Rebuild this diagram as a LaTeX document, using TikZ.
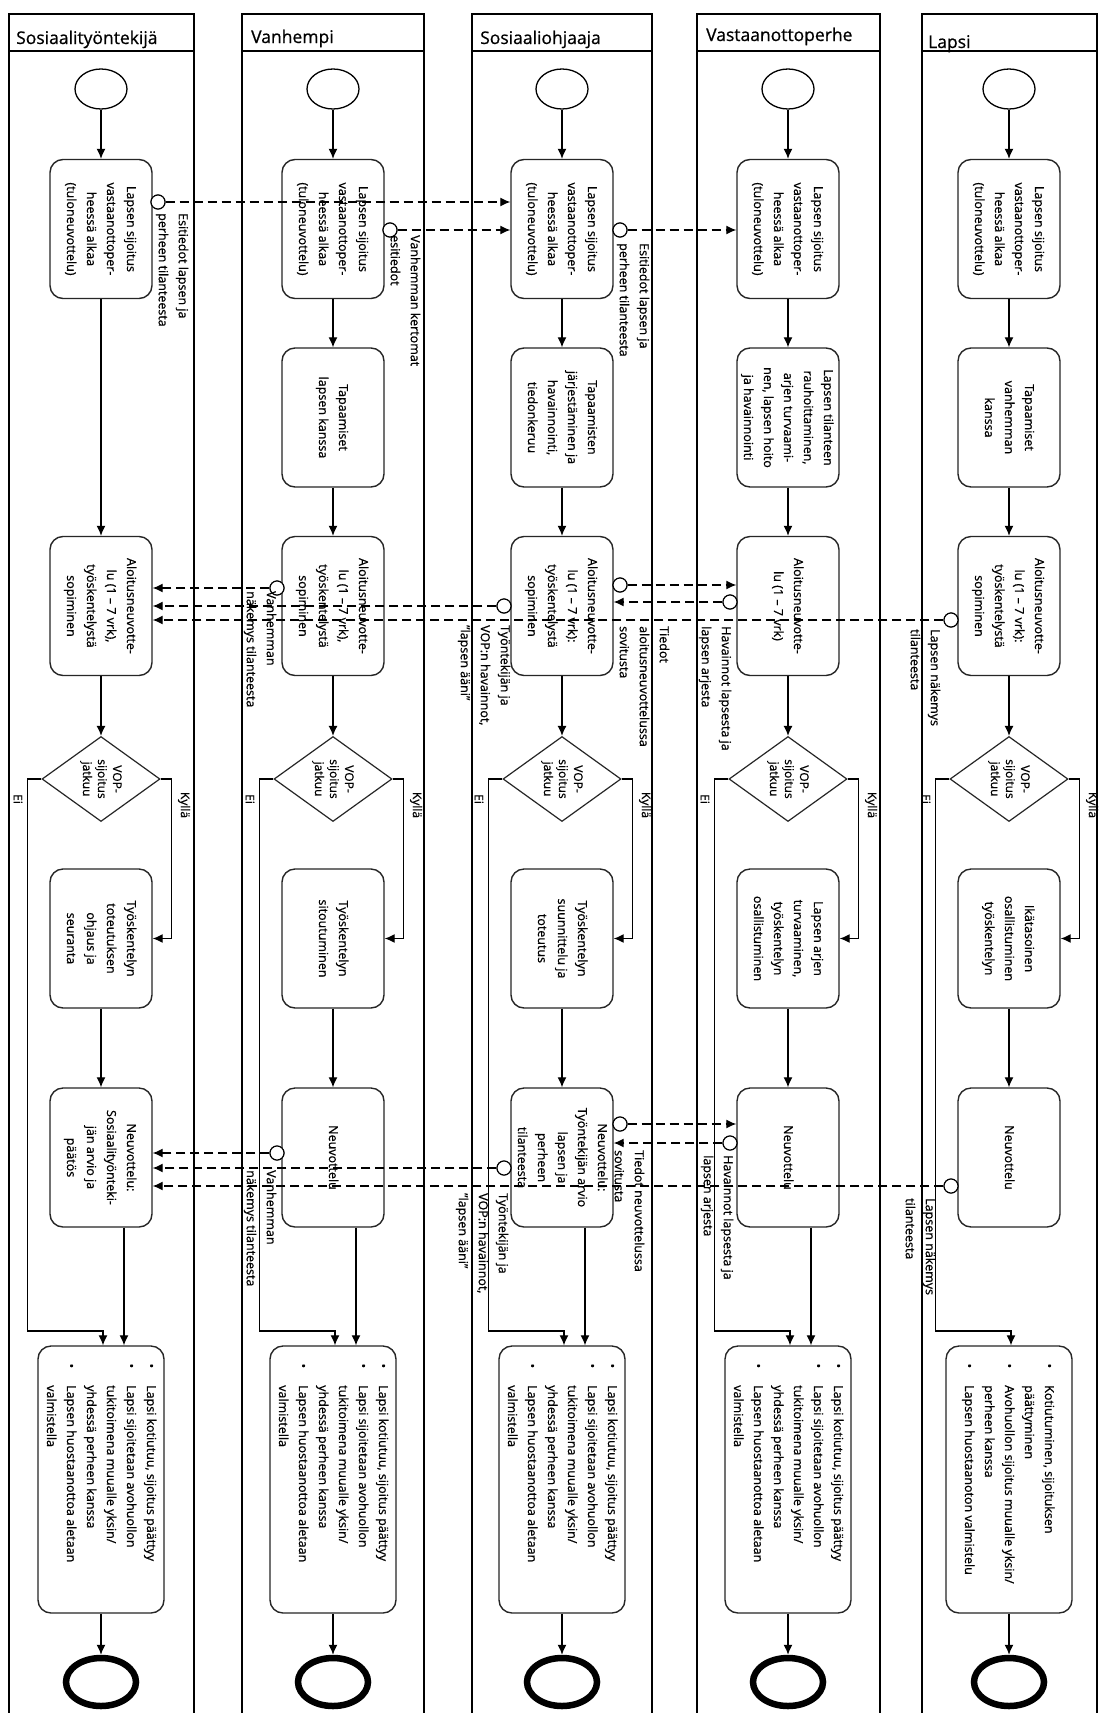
\documentclass[tikz,border=0pt]{standalone}
\usepackage{fontspec}
\setmainfont{Open Sans}[UprightFeatures={FakeBold=0.7}]
\usepackage{graphicx}
\usetikzlibrary{arrows.meta,shapes.geometric,calc}
\newcommand\rtc[1]{\rotatebox[origin=c]{-90}{\begin{tabular}{@{}c@{}}#1\end{tabular}}}
\newcommand\rtl[1]{\rotatebox[origin=c]{-90}{\begin{tabular}{@{}l@{}}#1\end{tabular}}}
\newcommand\rtb[1]{\rotatebox[origin=c]{-90}{\begin{tabular}{@{}l@{\hspace{17pt}}l@{}}#1\end{tabular}}}
\begin{document}
\begin{tikzpicture}[x=1pt,y=-1pt,
  lane/.style={line width=1.6pt},
  task/.style={draw=black!85, line width=1.4pt, rounded corners=13pt, minimum width=102pt, minimum height=139pt, inner sep=0pt, font=\fontsize{12.5}{20}\selectfont},
  endtask/.style={task, minimum width=126pt, minimum height=267pt},
  ttxt/.style={inner sep=0pt, font=\fontsize{12.5}{20}\selectfont},
  startev/.style={ellipse, draw, line width=1.3pt, minimum width=52pt, minimum height=40pt, inner sep=0pt},
  endev/.style={ellipse, draw, line width=6.5pt, minimum width=70pt, minimum height=48pt, inner sep=0pt},
  gate/.style={diamond, draw=black!85, line width=1.2pt, minimum width=118pt, minimum height=85pt, inner sep=0pt},
  gtxt/.style={inner sep=0pt, font=\fontsize{12}{15}\selectfont},
  flow/.style={line width=1.3pt, -{Latex[length=10pt,width=9pt]}},
  msg/.style={line width=1.3pt, dash pattern=on 9pt off 5pt, -{Latex[length=10pt,width=9pt]}},
  msrc/.style={circle, draw, fill=white, line width=1.1pt, minimum size=14pt, inner sep=0pt},
  lbl/.style={inner sep=0pt, anchor=north east, font=\fontsize{12.5}{20}\selectfont},
  brl/.style={inner sep=0pt, font=\fontsize{12}{14}\selectfont},
  head/.style={anchor=base west, inner sep=0pt, font=\fontsize{17.5}{20}\selectfont}
]
\useasboundingbox (0,0) rectangle (1099,1713);
\fill[white] (0,0) rectangle (1099,1713);

% lanes
\draw[lane] (9,1713) -- (9,14) -- (194,14) -- (194,1713);
\draw[lane] (9,51) -- (194,51);
\draw[lane] (242,1713) -- (242,14) -- (424,14) -- (424,1713);
\draw[lane] (242,51) -- (424,51);
\draw[lane] (472,1713) -- (472,14) -- (652,14) -- (652,1713);
\draw[lane] (472,51) -- (652,51);
\draw[lane] (697,1713) -- (697,14) -- (880,14) -- (880,1713);
\draw[lane] (697,51) -- (880,51);
\draw[lane] (922,1713) -- (922,14) -- (1097,14) -- (1097,1713);
\draw[lane] (922,51) -- (1097,51);

\node[head] (h1) at (16,44) {Sosiaalityöntekijä};
\node[head] (h2) at (251,43) {Vanhempi};
\node[head] (h3) at (480,44) {Sosiaaliohjaaja};
\node[head] (h4) at (706,41) {Vastaanottoperhe};
\node[head] (h5) at (928,48) {Lapsi};

% ---------- lane 1 ----------
\node[startev] (s1) at (101,89) {};
\node[task] (b11) at (101,229) {\rtc{Lapsen sijoitus\\vastaanottoper-\\heessä alkaa\\(tuloneuvottelu)}};
\node[task] (b31) at (101,606) {\rtc{Aloitusneuvotte-\\lu (1 – 7 vrk),\\työskentelystä\\sopiminen}};
\node[gate] (g1) at (101,779) {};
\node[gtxt] (gt1) at (g1) {\rtc{VOP-\\sijoitus\\jatkuu}};
\node[task] (b41) at (101,938.5) {\rtc{Työskentelyn\\toteutuksen\\ohjaus ja\\seuranta}};
\node[task] (b51) at (101,1157.5) {\rtc{Neuvottelu:\\Sosiaalityönteki-\\jän arvio ja\\päätös}};
\node[endtask] (b61) at (101,1479.5) {};
\node[ttxt, anchor=north] (t61) at ($(b61.north)+(0,18)$) {\rtb{•&Lapsi kotiutuu, sijoitus päättyy\\•&Lapsi sijoitetaan avohuollon\\&tukitoimena muualle yksin/\\&yhdessä perheen kanssa\\•&Lapsen huostaanottoa aletaan\\&valmistella}};
\node[endev] (e1) at (101,1682) {};

% ---------- lane 2 ----------
\node[startev] (s2) at (333,89) {};
\node[task] (b12) at (333,229) {\rtc{Lapsen sijoitus\\vastaanottoper-\\heessä alkaa\\(tuloneuvottelu)}};
\node[task] (b22) at (333,417.5) {\rtc{Tapaamiset\\lapsen kanssa}};
\node[task] (b32) at (333,606) {\rtc{Aloitusneuvotte-\\lu (1 – 7 vrk),\\työskentelystä\\sopiminen}};
\node[gate] (g2) at (333,779) {};
\node[gtxt] (gt2) at (g2) {\rtc{VOP-\\sijoitus\\jatkuu}};
\node[task] (b42) at (333,938.5) {\rtc{Työskentelyn\\sitoutuminen}};
\node[task] (b52) at (333,1157.5) {\rtc{Neuvottelu}};
\node[endtask] (b62) at (333,1479.5) {};
\node[ttxt, anchor=north] (t62) at ($(b62.north)+(0,18)$) {\rtb{•&Lapsi kotiutuu, sijoitus päättyy\\•&Lapsi sijoitetaan avohuollon\\&tukitoimena muualle yksin/\\&yhdessä perheen kanssa\\•&Lapsen huostaanottoa aletaan\\&valmistella}};
\node[endev] (e2) at (333,1682) {};

% ---------- lane 3 ----------
\node[startev] (s3) at (562,89) {};
\node[task] (b13) at (562,229) {\rtc{Lapsen sijoitus\\vastaanottoper-\\heessä alkaa\\(tuloneuvottelu)}};
\node[task] (b23) at (562,417.5) {\rtc{Tapaamisten\\järjestäminen ja\\havainnointi,\\tiedonkeruu}};
\node[task] (b33) at (562,606) {\rtc{Aloitusneuvotte-\\lu (1 – 7 vrk):\\työskentelystä\\sopiminen}};
\node[gate] (g3) at (562,779) {};
\node[gtxt] (gt3) at (g3) {\rtc{VOP-\\sijoitus\\jatkuu}};
\node[task] (b43) at (562,938.5) {\rtc{Työskentelyn\\suunnittelu ja\\toteutus}};
\node[task] (b53) at (562,1157.5) {\rtc{Neuvottelu:\\Työntekijän arvio\\lapsen ja\\perheen\\tilanteesta}};
\node[endtask] (b63) at (562,1479.5) {};
\node[ttxt, anchor=north] (t63) at ($(b63.north)+(0,18)$) {\rtb{•&Lapsi kotiutuu, sijoitus päättyy\\•&Lapsi sijoitetaan avohuollon\\&tukitoimena muualle yksin/\\&yhdessä perheen kanssa\\•&Lapsen huostaanottoa aletaan\\&valmistella}};
\node[endev] (e3) at (562,1682) {};

% ---------- lane 4 ----------
\node[startev] (s4) at (788,89) {};
\node[task] (b14) at (788,229) {\rtc{Lapsen sijoitus\\vastaanottoper-\\heessä alkaa\\(tuloneuvottelu)}};
\node[task] (b24) at (788,417.5) {\rtc{Lapsen tilanteen\\rauhoittaminen,\\arjen turvaami-\\nen, lapsen hoito\\ja havainnointi}};
\node[task] (b34) at (788,606) {\rtc{Aloitusneuvotte-\\lu (1 – 7 vrk)}};
\node[gate] (g4) at (788,779) {};
\node[gtxt] (gt4) at (g4) {\rtc{VOP-\\sijoitus\\jatkuu}};
\node[task] (b44) at (788,938.5) {\rtc{Lapsen arjen\\turvaaminen,\\työskentelyn\\osallistuminen}};
\node[task] (b54) at (788,1157.5) {\rtc{Neuvottelu}};
\node[endtask] (b64) at (788,1479.5) {};
\node[ttxt, anchor=north] (t64) at ($(b64.north)+(0,18)$) {\rtb{•&Lapsi kotiutuu, sijoitus päättyy\\•&Lapsi sijoitetaan avohuollon\\&tukitoimena muualle yksin/\\&yhdessä perheen kanssa\\•&Lapsen huostaanottoa aletaan\\&valmistella}};
\node[endev] (e4) at (788,1682) {};

% ---------- lane 5 ----------
\node[startev] (s5) at (1009,89) {};
\node[task] (b15) at (1009,229) {\rtc{Lapsen sijoitus\\vastaanottoper-\\heessä alkaa\\(tuloneuvottelu)}};
\node[task] (b25) at (1009,417.5) {\rtc{Tapaamiset\\vanhemman\\kanssa}};
\node[task] (b35) at (1009,606) {\rtc{Aloitusneuvotte-\\lu (1 – 7 vrk):\\työskentelystä\\sopiminen}};
\node[gate] (g5) at (1009,779) {};
\node[gtxt] (gt5) at (g5) {\rtc{VOP-\\sijoitus\\jatkuu}};
\node[task] (b45) at (1009,938.5) {\rtc{Ikätasoinen\\osallistuminen\\työskentelyn}};
\node[task] (b55) at (1009,1157.5) {\rtc{Neuvottelu}};
\node[endtask] (b65) at (1009,1479.5) {};
\node[ttxt, anchor=north] (t65) at ($(b65.north)+(0,18)$) {\rtb{•&Kotiutuminen, sijoituksen\\&päättyminen\\•&Avohuollon sijoitus muualle yksin/\\&perheen kanssa\\•&Lapsen huostaanoton valmistelu}};
\node[endev] (e5) at (1009,1682) {};

% ---------- sequence flows ----------
\draw[flow] (s1) -- (b11);
\draw[flow] (b11) -- (b31);
\draw[flow] (b31) -- (g1);
\draw[flow] (g1.east) -- ++(11,0) |- (b41.east);
\draw[flow] (g1.west) -- ++(-14,0) -- ++(0,552) -| ([xshift=2pt]b61.north);
\draw[flow] (b41) -- (b51);
\draw[flow] ([xshift=23pt]b51.south) -- ([xshift=23pt]b61.north);
\draw[flow] (b61) -- (e1);

\draw[flow] (s2) -- (b12);
\draw[flow] (b12) -- (b22);
\draw[flow] (b22) -- (b32);
\draw[flow] (b32) -- (g2);
\draw[flow] (g2.east) -- ++(11,0) |- (b42.east);
\draw[flow] (g2.west) -- ++(-14,0) -- ++(0,552) -| ([xshift=2pt]b62.north);
\draw[flow] (b42) -- (b52);
\draw[flow] ([xshift=23pt]b52.south) -- ([xshift=23pt]b62.north);
\draw[flow] (b62) -- (e2);

\draw[flow] (s3) -- (b13);
\draw[flow] (b13) -- (b23);
\draw[flow] (b23) -- (b33);
\draw[flow] (b33) -- (g3);
\draw[flow] (g3.east) -- ++(11,0) |- (b43.east);
\draw[flow] (g3.west) -- ++(-14,0) -- ++(0,552) -| ([xshift=2pt]b63.north);
\draw[flow] (b43) -- (b53);
\draw[flow] ([xshift=23pt]b53.south) -- ([xshift=23pt]b63.north);
\draw[flow] (b63) -- (e3);

\draw[flow] (s4) -- (b14);
\draw[flow] (b14) -- (b24);
\draw[flow] (b24) -- (b34);
\draw[flow] (b34) -- (g4);
\draw[flow] (g4.east) -- ++(11,0) |- (b44.east);
\draw[flow] (g4.west) -- ++(-14,0) -- ++(0,552) -| ([xshift=2pt]b64.north);
\draw[flow] (b44) -- (b54);
\draw[flow] ([xshift=23pt]b54.south) -- ([xshift=23pt]b64.north);
\draw[flow] (b64) -- (e4);

\draw[flow] (s5) -- (b15);
\draw[flow] (b15) -- (b25);
\draw[flow] (b25) -- (b35);
\draw[flow] (b35) -- (g5);
\draw[flow] (g5.east) -- ++(11,0) |- (b45.east);
\draw[flow] (g5.west) -- ++(-14,0) -- ++(0,552) -| ([xshift=2pt]b65.north);
\draw[flow] (b45) -- (b55);
\draw[flow] (b65) -- (e5);

% Ei / Kylla labels
\foreach \c/\n in {101/1,333/2,562/3,788/4,1009/5}{
  \node[brl] (ei\n) at (\c-83,799) {\rotatebox{-90}{Ei}};
  \node[brl] (ky\n) at (\c+83,805) {\rotatebox{-90}{Kyllä}};
}

% ---------- message flows ----------
\node[msrc] (ma1) at (158,202) {};
\node[msrc] (ma2) at (390,230) {};
\node[msrc] (ma3) at (620,230) {};
\node[msrc] (mb1) at (277,588) {};
\node[msrc] (mb2) at (504,606) {};
\node[msrc] (mb3) at (951,620) {};
\node[msrc] (mb4) at (620,585) {};
\node[msrc] (mb5) at (730,602) {};
\node[msrc] (mc1) at (277,1153) {};
\node[msrc] (mc2) at (504,1168) {};
\node[msrc] (mc3) at (951,1186) {};
\node[msrc] (mc4) at (620,1124) {};
\node[msrc] (mc5) at (730,1143) {};

\draw[msg] (ma1.east) -- (ma1 -| b13.west);
\draw[msg] (ma2.east) -- (ma2 -| b13.west);
\draw[msg] (ma3.east) -- (ma3 -| b14.west);
\draw[msg] (mb1.west) -- (mb1 -| b31.east);
\draw[msg] (mb2.west) -- (mb2 -| b31.east);
\draw[msg] (mb3.west) -- (mb3 -| b31.east);
\draw[msg] (mb4.east) -- (mb4 -| b34.west);
\draw[msg] (mb5.west) -- (mb5 -| b33.east);
\draw[msg] (mc1.west) -- (mc1 -| b51.east);
\draw[msg] (mc2.west) -- (mc2 -| b51.east);
\draw[msg] (mc3.west) -- (mc3 -| b51.east);
\draw[msg] (mc4.east) -- (mc4 -| b54.west);
\draw[msg] (mc5.west) -- (mc5 -| b53.east);

% redraw source circles on top
\foreach \m in {ma1,ma2,ma3,mb1,mb2,mb3,mb4,mb5,mc1,mc2,mc3,mc4,mc5}{
  \draw[line width=1.1pt, fill=white] (\m) circle (7pt);
}

% message labels
\node[lbl] (la1) at (193,213) {\rtl{Esitiedot lapsen ja\\perheen tilanteesta}};
\node[lbl] (la2) at (425,235) {\rtl{Vanhemman kertomat\\esitiedot}};
\node[lbl] (la3) at (654,243) {\rtl{Esitiedot lapsen ja\\perheen tilanteesta}};
\node[lbl] (lb1) at (281,591) {\rtl{Vanhemman\\näkemys tilanteesta}};
\node[lbl] (lb2) at (515,625) {\rtl{Työntekijän ja\\VOP:n havainnot,\\”lapsen ääni”}};
\node[lbl] (lb3) at (945,629) {\rtl{Lapsen näkemys\\tilanteesta}};
\node[lbl] (lb4) at (674,626) {\rtl{Tiedot\\aloitusneuvottelussa\\sovitusta}};
\node[lbl] (lb5) at (736,626) {\rtl{Havainnot lapsesta ja\\lapsen arjesta}};
\node[lbl] (lc1) at (281,1170) {\rtl{Vanhemman\\näkemys tilanteesta}};
\node[lbl] (lc2) at (513,1193) {\rtl{Työntekijän ja\\VOP:n havainnot,\\”lapsen ääni”}};
\node[lbl] (lc3) at (940,1198) {\rtl{Lapsen näkemys\\tilanteesta}};
\node[lbl] (lc4) at (649,1150) {\rtl{Tiedot neuvottelussa\\sovitusta}};
\node[lbl] (lc5) at (738,1155) {\rtl{Havainnot lapsesta ja\\lapsen arjesta}};
\end{tikzpicture}
\end{document}
